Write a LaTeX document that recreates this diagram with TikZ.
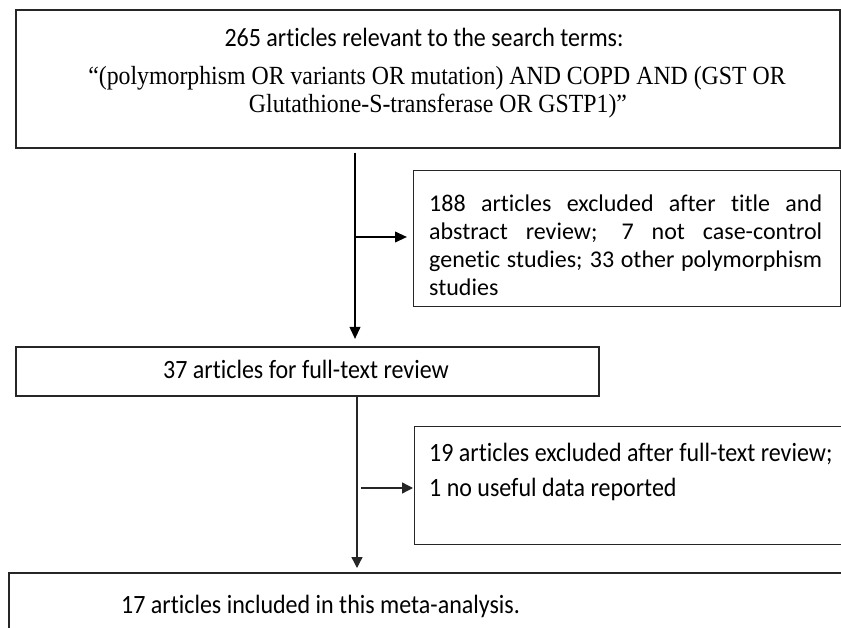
\documentclass[tikz,border=0pt]{standalone}
\usepackage{fontspec}
\setmainfont{Carlito}[Ligatures=NoCommon]
\newfontfamily\timesf{Liberation Serif}[Ligatures=NoCommon]
\usetikzlibrary{arrows.meta}
\newcommand{\tallx}[1]{\scalebox{1}[1.1]{#1}}
\begin{document}
\begin{tikzpicture}[x=1pt,y=-1pt,
  boxx/.style={draw=black!85, line width=1.6pt, inner sep=0pt, anchor=north west},
  lbl/.style={inner sep=0pt, anchor=base, font=\fontsize{24}{28}\selectfont},
  lblw/.style={lbl, anchor=base west},
  tms/.style={lbl, font=\timesf\fontsize{23.8}{24}\selectfont},
  thickarrow/.style={draw=black, line width=2.2pt, -{Triangle[length=12pt,width=10.5pt]}},
  thinarrow/.style={draw=black!85, line width=1.4pt, -{Triangle[length=11pt,width=11pt]}}]
\clip (0,0) rectangle (841,628);
\fill[white] (0,0) rectangle (841,628);
% boxes
\node[boxx, minimum width=824pt, minimum height=138pt] (b1) at (15,9) {};
\node[boxx, line width=1.3pt, minimum width=427pt, minimum height=136pt] (b3) at (413,170) {};
\node[boxx, minimum width=583pt, minimum height=49pt] (b2) at (15,346) {};
\node[boxx, line width=1.3pt, minimum width=450pt, minimum height=118pt] (b4) at (414,426) {};
\node[boxx, minimum width=870pt, minimum height=100pt] (b5) at (8,572) {};
% texts
\node[lbl] (t1a) at (424,47) {\tallx{265 articles relevant to the search terms:}};
\node[tms] (t1b) at (437,85) {\tallx{“(polymorphism OR variants OR mutation) AND COPD AND (GST OR}};
\node[tms] (t1c) at (438,113) {\tallx{Glutathione-S-transferase OR GSTP1)”}};
\node[lblw] (t3a) at (429,212) {\makebox[393pt][s]{188 articles excluded after title and}};
\node[lblw] (t3b) at (429,240) {\makebox[393pt][s]{abstract review; 7 not case-control}};
\node[lblw] (t3c) at (429,268) {\makebox[393pt][s]{genetic studies; 33 other polymorphism}};
\node[lblw] (t3d) at (429,296) {studies};
\node[lbl] (t2) at (306,378) {\tallx{37 articles for full-text review}};
\node[lblw] (t4a) at (429,461) {\tallx{19 articles excluded after full-text review;}};
\node[lblw] (t4b) at (429,496) {\tallx{1 no useful data reported}};
\node[lblw] (t5) at (121,613) {\tallx{17 articles included in this meta-analysis.}};
% connectors
\coordinate (x1) at (355,0);
\coordinate (j1) at (355,237);
\coordinate (x2) at (357,0);
\coordinate (j2) at (361,488);
\draw[thickarrow, shorten <=4pt, shorten >=7pt] (b1.south -| x1) -- (b2.north -| x1);
\draw[thickarrow, shorten >=6pt] (j1) -- (j1 -| b3.west);
\draw[thinarrow, shorten >=4pt] (b2.south -| x2) -- (b5.north -| x2);
\draw[thinarrow, shorten >=1pt] (j2) -- (j2 -| b4.west);
\end{tikzpicture}
\end{document}
